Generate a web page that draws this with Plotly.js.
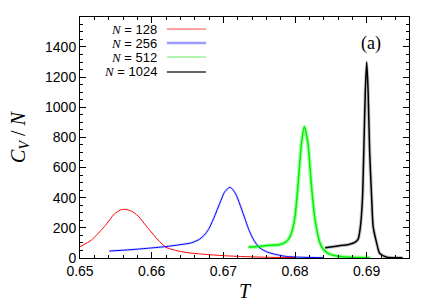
<!DOCTYPE html>
<html>
<head>
<meta charset="utf-8">
<script src="https://cdn.plot.ly/plotly-3.0.1.min.js"></script>
<style>html,body{margin:0;padding:0;background:#fff;}#chart{width:436px;height:305px;}</style>
</head>
<body>
<div id="chart"></div>
<script>
// ---- data ----
const seriesNames = ["128", "256", "512", "1024"];

const t128 = [0.6500,0.6516,0.6534,0.6548,0.6556,0.6564,0.6572,0.6581,0.6595,0.6609,0.6620,0.6637,0.6651,0.6665,0.6686,0.6710,0.6732,0.6760,0.6800];
const c128 = [75,119,208,292,318,323,310,279,197,119,71,46,35,28,20,13,9,5,3];

const t256 = [0.6541,0.6570,0.6598,0.6620,0.6639,0.6655,0.6667,0.6675,0.6681,0.6688,0.6695,0.6702,0.6709,0.6714,0.6719,0.6725,0.6730,0.6735,0.6740,0.6745,0.6751,0.6760,0.6770,0.6788,0.6810,0.6840];
const c256 = [46,55,66,76,88,100,125,160,205,280,363,440,469,450,407,330,262,195,140,100,66,42,27,10,5,2];

const t512 = [0.6735,0.6750,0.6765,0.6779,0.6787,0.6793,0.6797,0.6800,0.6804,0.6809,0.6813,0.6818,0.6823,0.6828,0.6835,0.6840,0.6846,0.6858,0.6875,0.6905];
const c512 = [71,77,84,90,105,141,200,274,473,761,871,761,473,252,97,55,31,13,5,2];

const t1024 = [0.6842,0.6860,0.6875,0.6884,0.6888,0.6891,0.6894,0.6896,0.6898,0.6900,0.6902,0.6904,0.6907,0.6909,0.6914,0.6918,0.6928,0.6950];
const c1024 = [68,80,90,105,125,200,385,720,1100,1300,1100,720,385,208,97,31,5,2];

const colors = ["#ff0000", "#0000ff", "#00ee00", "#000000"];
const haloColors = ["rgba(255,0,0,0)", "rgba(0,0,255,0.15)", "rgba(0,255,0,0.35)", "rgba(0,0,0,0.22)"];
const haloWidths = [0, 2.5, 4, 3.5];
const legendColors = ["#ff4444", "#9999ff", "#66ee66", "#666666"];
const legendWidths = [1, 2.5, 1, 2];

const xs = [t128, t256, t512, t1024];
const ys = [c128, c256, c512, c1024];

const traces = [];
for (let i = 0; i < 4; i++) {
  traces.push({x: xs[i], y: ys[i], mode: "lines", type: "scatter", showlegend: false, hoverinfo: "skip",
    line: {color: haloColors[i], width: haloWidths[i] || 0.1, shape: "spline", smoothing: 0.6}});
}
for (let i = 0; i < 4; i++) {
  traces.push({x: xs[i], y: ys[i], mode: "lines", type: "scatter", name: "N = " + seriesNames[i], showlegend: false,
    line: {color: colors[i], width: i >= 2 ? 1.5 : 1, shape: "spline", smoothing: 0.6}});
}

// legend drawn as text + short line samples
const annotations = [];
const shapes = [];
const rowY = [0.950, 0.892, 0.834, 0.772];
for (let i = 0; i < 4; i++) {
  annotations.push({xref: "paper", yref: "paper", x: 0.236, y: rowY[i], xanchor: "right", yanchor: "middle",
    showarrow: false, borderpad: 0,
    text: "<span style=\"font-family:'Liberation Serif','Times New Roman',serif\"><i>N</i></span> = " + seriesNames[i],
    font: {family: "Liberation Sans, Arial, sans-serif", size: 13, color: "#000"}});
  shapes.push({type: "line", xref: "paper", yref: "paper", x0: 0.264, x1: 0.383, y0: rowY[i], y1: rowY[i],
    line: {color: legendColors[i], width: legendWidths[i]}});
}
annotations.push({xref: "paper", yref: "paper", x: 0.885, y: 0.892, xanchor: "center", yanchor: "middle",
  showarrow: false, text: "(a)", font: {family: "Liberation Serif, Times New Roman, serif", size: 18, color: "#000"}});

const axisCommon = {
  showline: true, linecolor: "#000", linewidth: 1, mirror: "allticks",
  ticks: "inside", ticklen: 6, tickcolor: "#000", tickwidth: 1,
  showgrid: false, zeroline: false,
  tickfont: {family: "Liberation Sans, Arial, sans-serif", size: 14, color: "#000"}
};

const layout = {
  width: 436, height: 305,
  margin: {l: 80, r: 27, t: 17, b: 47},
  paper_bgcolor: "#fff", plot_bgcolor: "#fff",
  showlegend: false,
  xaxis: Object.assign({}, axisCommon, {
    range: [0.65, 0.6959], tick0: 0.65, dtick: 0.01, tickformat: ".2f",
    minor: {tick0: 0.65, dtick: 0.002, ticks: "inside", ticklen: 3, tickcolor: "#000"},
    title: {text: "<i>T</i>", font: {family: "Liberation Serif, Times New Roman, serif", size: 20, color: "#000"}, standoff: 6}
  }),
  yaxis: Object.assign({}, axisCommon, {
    range: [0, 1599], tick0: 0, dtick: 200,
    minor: {tick0: 0, dtick: 50, ticks: "inside", ticklen: 3, tickcolor: "#000"},
    title: {text: "<i>C<sub>V</sub></i> / <i>N</i>", font: {family: "Liberation Serif, Times New Roman, serif", size: 20, color: "#000"}, standoff: 14}
  }),
  annotations: annotations,
  shapes: shapes
};

Plotly.newPlot("chart", traces, layout, {displayModeBar: false, staticPlot: true});
</script>
</body>
</html>
